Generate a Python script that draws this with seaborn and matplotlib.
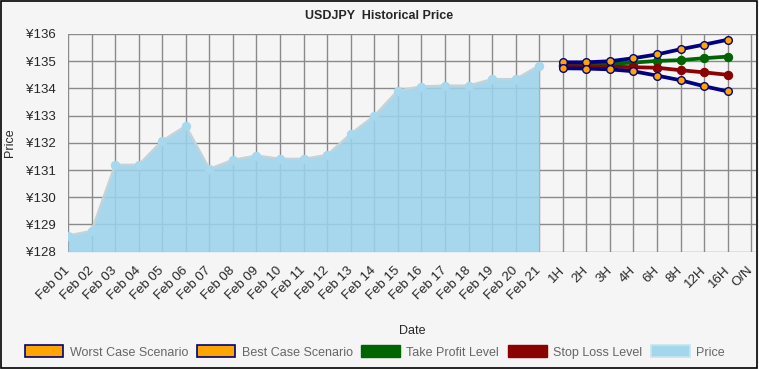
import matplotlib
matplotlib.use("Agg")
import matplotlib.pyplot as plt
import matplotlib.patches as mpatches
import seaborn as sns

# categories on the x axis
dates = ["Feb 01", "Feb 02", "Feb 03", "Feb 04", "Feb 05", "Feb 06", "Feb 07",
         "Feb 08", "Feb 09", "Feb 10", "Feb 11", "Feb 12", "Feb 13", "Feb 14",
         "Feb 15", "Feb 16", "Feb 17", "Feb 18", "Feb 19", "Feb 20", "Feb 21"]
horizons = ["1H", "2H", "3H", "4H", "6H", "8H", "12H", "16H", "O/N"]

# historical price
price = [128.59, 128.76, 131.19, 131.19, 132.07, 132.62, 131.04,
         131.37, 131.53, 131.41, 131.41, 131.55, 132.33, 132.99,
         133.92, 134.07, 134.10, 134.10, 134.34, 134.34, 134.84]

# projections for 1H..16H (nothing at O/N)
best_case = [134.96, 134.96, 135.00, 135.11, 135.25, 135.44, 135.61, 135.79]
worst_case = [134.74, 134.73, 134.70, 134.63, 134.47, 134.30, 134.08, 133.89]
take_profit = [134.86, 134.87, 134.90, 134.95, 135.01, 135.04, 135.11, 135.17]
stop_loss = [134.82, 134.81, 134.80, 134.78, 134.76, 134.67, 134.59, 134.50]

yticks = [128, 129, 130, 131, 132, 133, 134, 135, 136]

sns.set_style("white", {"axes.facecolor": "#f5f5f5", "figure.facecolor": "#f5f5f5"})
plt.rcParams["font.family"] = ["Liberation Sans", "DejaVu Sans"]

labels = dates + horizons
hist_x = list(range(len(dates)))
proj_x = [len(dates) + i for i in range(len(best_case))]

fig = plt.figure(figsize=(7.59, 3.69), dpi=100)
ax = fig.add_axes([68 / 759, 1 - 251.7 / 369, (756 - 68) / 759, (251.7 - 34) / 369])

# price area (grid shows faintly through it)
ax.fill_between(hist_x, price, 128, color="#9cd3ec", alpha=0.88, lw=0, zorder=1)
sns.lineplot(x=hist_x, y=price, ax=ax, color="#c2d3da", lw=1.8, marker="o",
             markersize=6, markerfacecolor="#a8d8ee", markeredgecolor="#a8d8ee", zorder=2)

# projections
sns.lineplot(x=proj_x, y=take_profit, ax=ax, color="#006400", lw=2.7, marker="o",
             markersize=6, markerfacecolor="#006400", markeredgecolor="#006400", zorder=4)
sns.lineplot(x=proj_x, y=stop_loss, ax=ax, color="#8b0000", lw=2.7, marker="o",
             markersize=6, markerfacecolor="#8b0000", markeredgecolor="#8b0000", zorder=4)
sns.lineplot(x=proj_x, y=best_case, ax=ax, color="#000080", lw=2.7, marker="o",
             markersize=5.5, markerfacecolor="#ffa500", markeredgecolor="#000080",
             markeredgewidth=1, zorder=5)
sns.lineplot(x=proj_x, y=worst_case, ax=ax, color="#000080", lw=2.7, marker="o",
             markersize=5.5, markerfacecolor="#ffa500", markeredgecolor="#000080",
             markeredgewidth=1, zorder=5)

ax.set_xlim(0, 29.2)
ax.set_ylim(128, 136)
ax.set_xticks(range(len(labels)))
ax.set_xticklabels(labels, rotation=45, ha="right", va="center", rotation_mode="anchor",
                   fontsize=9.5)
ax.set_yticks(yticks)
ax.set_yticklabels([f"¥{v}" for v in yticks], fontsize=9.5)
ax.tick_params(axis="y", length=8, width=1, color="#888888", pad=1)
ax.tick_params(axis="x", length=8, width=1, color="#888888", pad=4)
ax.grid(True, color="#8a8a8a", lw=1, zorder=0)
ax.set_axisbelow(True)
for s in ax.spines.values():
    s.set_visible(False)

ax.set_xlabel("Date", fontsize=9)
ax.xaxis.set_label_coords(0.5, -0.335)
ax.set_ylabel("Price", fontsize=9)
ax.yaxis.set_label_coords(-0.076, 0.5)
fig.text(0.5, 1 - 16 / 369, "USDJPY  Historical Price", ha="center", va="center",
         fontsize=9, fontweight="bold")

handles = [
    mpatches.Patch(facecolor="#ffa500", edgecolor="#000080", lw=1.2, label="Worst Case Scenario"),
    mpatches.Patch(facecolor="#ffa500", edgecolor="#000080", lw=1.2, label="Best Case Scenario"),
    mpatches.Patch(facecolor="#006400", edgecolor="#006400", label="Take Profit Level"),
    mpatches.Patch(facecolor="#8b0000", edgecolor="#8b0000", label="Stop Loss Level"),
    mpatches.Patch(facecolor="#a4d6ec", edgecolor="#c8e4f0", lw=1.2, label="Price"),
]
leg = fig.legend(handles=handles, loc="center", bbox_to_anchor=(0.4934, 1 - 352 / 369),
                 ncol=5, frameon=False, fontsize=9, handlelength=3.1, handleheight=1.1,
                 columnspacing=0.7, handletextpad=0.5)
for t in leg.get_texts():
    t.set_color("#666666")

fig.add_artist(mpatches.Rectangle((0.001, 0.002), 0.997, 0.996, transform=fig.transFigure,
                                  fill=False, ec="black", lw=1.2))

fig.savefig("out.png", dpi=100, facecolor=fig.get_facecolor())
